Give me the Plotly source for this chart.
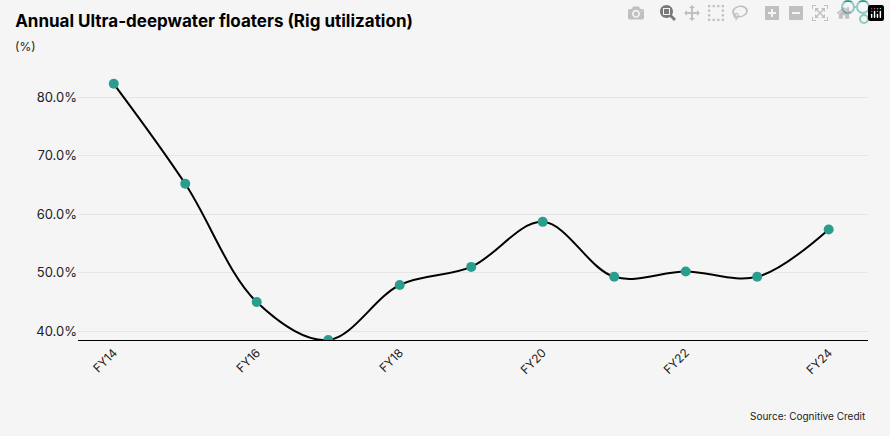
import plotly.graph_objects as go

years = ["FY14", "FY15", "FY16", "FY17", "FY18", "FY19", "FY20", "FY21", "FY22", "FY23", "FY24"]
utilization = [82.3, 65.2, 45.0, 38.5, 47.9, 51.0, 58.7, 49.3, 50.2, 49.3, 57.4]
tick_labels = ["FY14", "FY16", "FY18", "FY20", "FY22", "FY24"]
y_ticks = [40, 50, 60, 70, 80]

teal = "#2a9d8f"
fig = go.Figure()
fig.add_trace(go.Scatter(
    x=years, y=utilization, mode="lines+markers",
    line=dict(color="black", width=2, shape="spline", smoothing=1.0),
    marker=dict(color=teal, size=10), showlegend=False,
))

fig.update_layout(
    width=890, height=436,
    paper_bgcolor="#f5f5f5", plot_bgcolor="#f5f5f5",
    margin=dict(l=78, r=22, t=68, b=96),
    font=dict(family="Inter", color="#222", size=13),
    title=dict(text="<b>Annual Ultra-deepwater floaters (Rig utilization)</b>",
               x=0.017, y=0.965, xanchor="left", yanchor="top",
               font=dict(size=17, family="Inter", color="black")),
    xaxis=dict(tickmode="array", tickvals=tick_labels, ticktext=tick_labels,
               tickangle=-45, showgrid=False, showline=True, linecolor="black",
               linewidth=1, range=[-0.5, 10.55], tickfont=dict(size=12)),
    yaxis=dict(range=[38.5, 85], tickmode="array", tickvals=y_ticks,
               ticktext=[f"{v:.1f}%" for v in y_ticks],
               gridcolor="#e6e6e6", zeroline=False, tickfont=dict(size=13)),
)
fig.add_annotation(text="(%)", xref="paper", yref="paper", x=-0.082, y=1.045,
                   xanchor="left", yanchor="bottom", showarrow=False, font=dict(size=12))
fig.add_annotation(text="Source: Cognitive Credit", xref="paper", yref="paper", x=1.0, y=-0.25,
                   xanchor="right", yanchor="top", showarrow=False, font=dict(size=10))
# logo
for x0, y0, x1, y1 in [(842, 29, 854, 41), (857, 29, 869, 41), (860, 43, 868, 51)]:
    fig.add_shape(type="circle", xref="paper", yref="paper",
                  x0=(x0 - 78) / 790, x1=(x1 - 78) / 790,
                  y0=(368 - y1) / 272, y1=(368 - y0) / 272,
                  line=dict(color=teal, width=2))
fig.add_shape(type="line", xref="paper", yref="paper",
              x0=(854 - 78) / 790, x1=(857 - 78) / 790,
              y0=(368 - 35) / 272, y1=(368 - 35) / 272, line=dict(color=teal, width=2))

fig.write_html("out.html", post_script="document.body.style.margin='0';")
